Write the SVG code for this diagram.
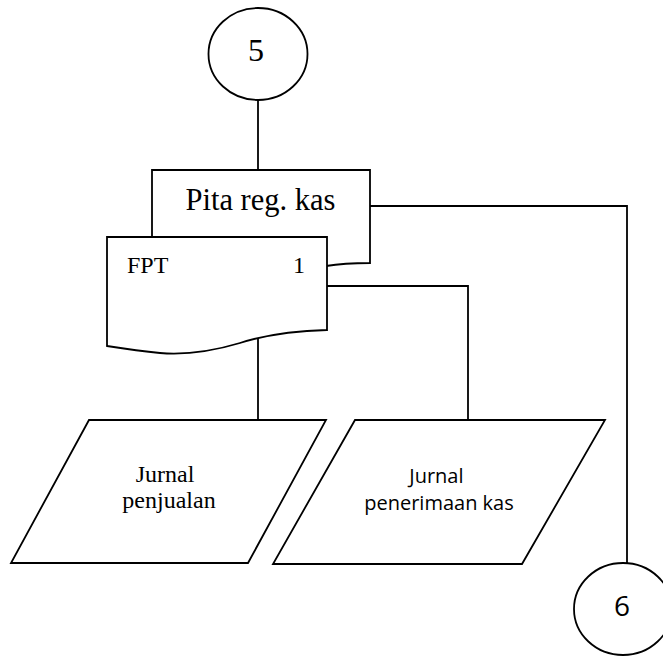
<svg xmlns="http://www.w3.org/2000/svg" width="663" height="656" viewBox="0 0 663 656">
  <style>
    .shape { fill: #fff; stroke: #000; stroke-width: 1.8; }
    .line { fill: none; stroke: #000; stroke-width: 1.8; }
    .serif { font-family: "Liberation Serif", "Times New Roman", serif; fill: #000; }
    .sans { font-family: "Open Sans", "Liberation Sans", sans-serif; fill: #000; }
  </style>
  <rect width="663" height="656" fill="#fff"/>

  <!-- connectors -->
  <g id="connectors">
    <path class="line" d="M258,100 V170"/>
    <path class="line" d="M370,206 H627 V563"/>
    <path class="line" d="M327,286 H468 V420"/>
    <path class="line" d="M258,337 V420"/>
  </g>

  <!-- off-page connector 5 -->
  <g id="conn5">
    <ellipse class="shape" cx="258" cy="54" rx="49.5" ry="46"/>
    <text class="serif" x="256" y="61" font-size="32" text-anchor="middle">5</text>
  </g>

  <!-- cash register tape document -->
  <g id="pita">
    <path class="shape" d="M152,170 H370 V263 C350,263 338,264 326,266 C290,272 250,282 210,286 C185,288 168,286 152,283 Z"/>
    <text class="serif" x="260.5" y="210" font-size="30.5" text-anchor="middle">Pita reg. kas</text>
  </g>

  <!-- FPT document -->
  <g id="fpt">
    <path class="shape" d="M107,237 H327 V330 C290,331 265,335 240,343 C210,352 185,355 160,353 C140,351 120,348 107,346 Z"/>
    <text class="serif" x="127" y="273" font-size="24">FPT</text>
    <text class="serif" x="293" y="273" font-size="24">1</text>
  </g>

  <!-- sales journal -->
  <g id="jurnal-penjualan">
    <polygon class="shape" points="89,420 326,420 248,563 11,563"/>
    <text class="serif" font-size="24" text-anchor="middle">
      <tspan x="168" y="482">Jurnal</tspan>
      <tspan x="169" y="508">penjualan</tspan>
    </text>
  </g>

  <!-- cash receipts journal -->
  <g id="jurnal-penerimaan">
    <polygon class="shape" points="355,420 605,420 522,564 273,564"/>
    <text class="sans" font-size="20" text-anchor="middle">
      <tspan x="439" y="483">Jurnal</tspan>
      <tspan x="439" y="510">penerimaan kas</tspan>
    </text>
  </g>

  <!-- off-page connector 6 -->
  <g id="conn6">
    <ellipse class="shape" cx="623" cy="609" rx="49" ry="46"/>
    <text class="sans" x="622" y="616" font-size="28" text-anchor="middle">6</text>
  </g>
</svg>
